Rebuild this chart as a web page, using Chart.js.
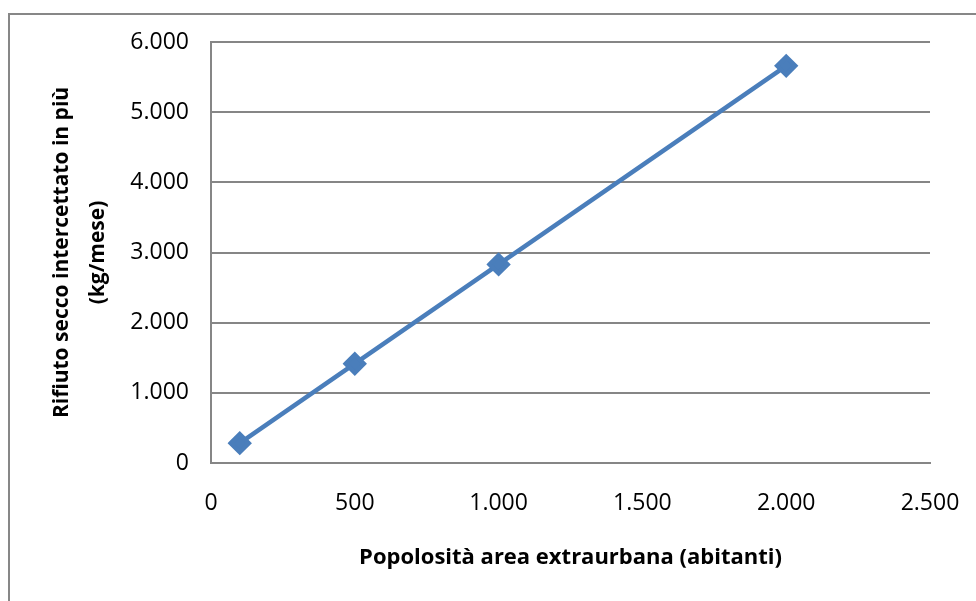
<!DOCTYPE html>
<html>
<head>
<meta charset="utf-8">
<script src="https://cdn.jsdelivr.net/npm/chart.js@4/dist/chart.umd.min.js"></script>
<style>
  html, body { margin: 0; padding: 0; background: #fff; }
  #wrap { position: relative; width: 976px; height: 601px; overflow: hidden; }
  #frame { position: absolute; left: 8px; top: 13px; width: 1000px; height: 700px; border: 2px solid #878787; box-sizing: border-box; }
  #chart { position: absolute; left: 0; top: 0; }
</style>
</head>
<body>
<div id="wrap">
  <div id="frame"></div>
  <canvas id="chart" width="976" height="601"></canvas>
</div>
<script>
// popolosità area extraurbana (abitanti)
const abitanti = [100, 500, 1000, 2000];
// rifiuto secco intercettato in più (kg/mese)
const rifiuto = [283, 1415, 2830, 5660];
const xTicks = [0, 500, 1000, 1500, 2000, 2500];
const yTicks = [0, 1000, 2000, 3000, 4000, 5000, 6000];

const blue = '#4a7ebb';
const grey = '#868686';

function fmt(v) {
  return String(v).replace(/\B(?=(\d{3})+(?!\d))/g, '.');
}

const points = abitanti.map((x, i) => ({ x: x, y: rifiuto[i] }));

new Chart(document.getElementById('chart'), {
  type: 'scatter',
  data: {
    datasets: [{
      data: points,
      showLine: true,
      borderColor: blue,
      backgroundColor: blue,
      borderWidth: 4.5,
      pointStyle: 'rectRot',
      pointRadius: 9,
      pointHoverRadius: 9,
    }],
  },
  options: {
    responsive: false,
    animation: false,
    layout: { padding: { left: 0, right: 46, top: 42, bottom: 0 } },
    plugins: { legend: { display: false }, tooltip: { enabled: false } },
    scales: {
      x: {
        type: 'linear',
        min: 0,
        max: 2500,
        afterBuildTicks: (s) => { s.ticks = xTicks.map((v) => ({ value: v })); },
        afterFit: (s) => { s.height = 138; s.paddingLeft = 0; s.paddingRight = 0; },
        grid: { display: false, drawTicks: false },
        border: { color: grey, width: 2 },
        ticks: {
          padding: 27,
          color: '#000',
          font: { family: 'Open Sans', size: 23 },
          callback: (v) => fmt(v),
        },
        title: {
          display: true,
          text: 'Popolosità area extraurbana (abitanti)',
          color: '#000',
          font: { family: 'Open Sans', size: 22, weight: 'bold' },
          padding: { top: 0, bottom: 30 },
        },
      },
      y: {
        min: 0,
        max: 6000,
        afterBuildTicks: (s) => { s.ticks = yTicks.map((v) => ({ value: v })); },
        afterFit: (s) => { s.width = 211; s.paddingTop = 0; s.paddingBottom = 0; },
        grid: { color: grey, lineWidth: 2, drawTicks: false },
        border: { color: grey, width: 2 },
        ticks: {
          padding: 22,
          color: '#000',
          font: { family: 'Open Sans', size: 23 },
          callback: (v) => fmt(v),
        },
        title: {
          display: true,
          text: ['Rifiuto secco intercettato in più', '(kg/mese)'],
          color: '#000',
          font: { family: 'Open Sans', size: 21, weight: 'bold', lineHeight: 1.71 },
          padding: { top: 44, bottom: 0 },
        },
      },
    },
  },
});
</script>
</body>
</html>
